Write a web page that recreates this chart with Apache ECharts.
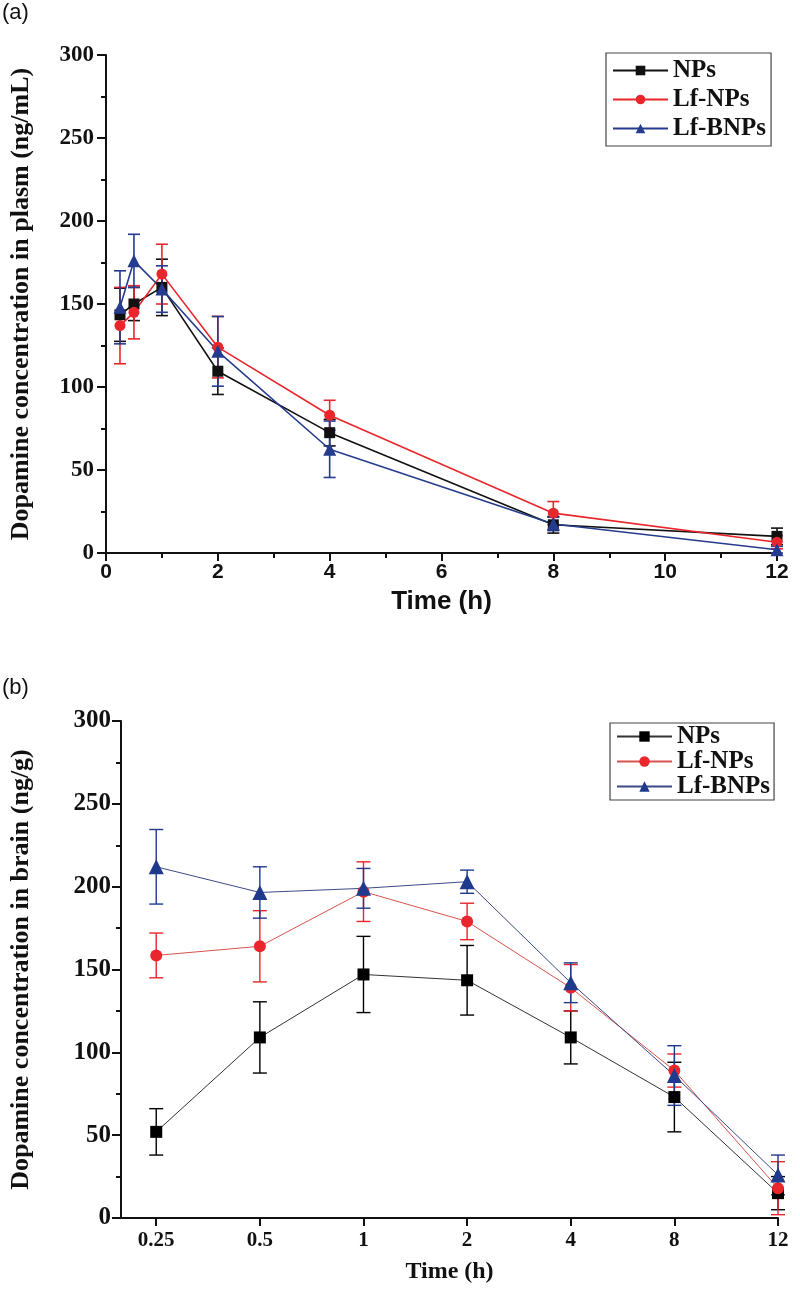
<!DOCTYPE html>
<html>
<head>
<meta charset="utf-8">
<script src="https://cdn.jsdelivr.net/npm/echarts@6/dist/echarts.min.js"></script>
<style>
html,body{margin:0;padding:0;background:#fff;}
#c{width:800px;height:1300px;}
</style>
</head>
<body>
<div id="c"></div>
<script>
// ---------- Panel (a): plasma ----------
const timesA = [0.25, 0.5, 1, 2, 4, 8, 12];
const npsA      = [143.5, 150, 160, 109.5, 72.5, 17, 10];
const npsAErr   = [16, 10, 17, 14, 8, 5, 5];
const lfNpsA    = [137, 145, 168, 124, 83, 24, 6.5];
const lfNpsAErr = [23, 16, 18, 18.5, 9, 7, 4];
const lfBnpsA   = [148, 176, 159, 121.5, 62.5, 17.5, 2];
const lfBnpsAErr= [22, 16, 14, 21, 17, 4, 2];
const yTicksA   = [0, 50, 100, 150, 200, 250, 300];

// ---------- Panel (b): brain ----------
const timeLabelsB = ['0.25', '0.5', '1', '2', '4', '8', '12'];
const npsB      = [52, 109, 147, 143.5, 109, 73, 15];
const npsBErr   = [14, 21.5, 23, 21, 16, 21, 10];
const lfNpsB    = [158.5, 164, 197, 179, 139, 89, 18];
const lfNpsBErr = [13.5, 21.5, 18, 11, 14, 10, 16];
const lfBnpsB   = [212, 196.5, 199, 203, 142, 86, 26];
const lfBnpsBErr= [22.5, 15.5, 12, 7, 12, 18, 12];

const seriesNames = ['NPs', 'Lf-NPs', 'Lf-BNPs'];

const colA = ['#111111', '#e8262c', '#243b8e'];
const colB = ['#000000', '#e8262c', '#1f3a8c'];
const lineColB = ['#333333', '#d9534f', '#3c4a86'];
const symbols = ['rect', 'circle', 'triangle'];

function pairs(xs, ys){ return ys.map((v,i)=>[xs[i], v]); }
function triples(xs, ys, es){ return ys.map((v,i)=>[xs[i], v, es[i]]); }

function errRender(cap, color, lw){
  return function(params, api){
    const x = api.value(0), y = api.value(1), e = api.value(2);
    const top = api.coord([x, y + e]);
    const bot = api.coord([x, y - e]);
    const st = {stroke: color, lineWidth: lw};
    return {type:'group', children:[
      {type:'line', shape:{x1:top[0], y1:top[1], x2:bot[0], y2:bot[1]}, style:st},
      {type:'line', shape:{x1:top[0]-cap, y1:top[1], x2:top[0]+cap, y2:top[1]}, style:st},
      {type:'line', shape:{x1:bot[0]-cap, y1:bot[1], x2:bot[0]+cap, y2:bot[1]}, style:st}
    ]};
  };
}

const idxB = timeLabelsB.map((_,i)=>i);

const valsA = [npsA, lfNpsA, lfBnpsA];
const errsA = [npsAErr, lfNpsAErr, lfBnpsAErr];
const valsB = [npsB, lfNpsB, lfBnpsB];
const errsB = [npsBErr, lfNpsBErr, lfBnpsBErr];

const series = [];
for (let k=0;k<3;k++){
  series.push({
    type:'custom', xAxisIndex:0, yAxisIndex:0, z:2, silent:true,
    renderItem: errRender(6, colA[k], 1.6),
    data: triples(timesA, valsA[k], errsA[k])
  });
}
for (let k=0;k<3;k++){
  series.push({
    name: seriesNames[k], type:'line', xAxisIndex:0, yAxisIndex:0, z:3,
    data: pairs(timesA, valsA[k]),
    symbol: symbols[k], symbolSize: k===2 ? 13 : 11,
    showAllSymbol:true,
    lineStyle:{color: colA[k], width:1.6},
    itemStyle:{color: colA[k]},
    animation:false
  });
}
for (let k=0;k<3;k++){
  series.push({
    type:'custom', xAxisIndex:1, yAxisIndex:1, z:2, silent:true,
    renderItem: errRender(7, colB[k], 1.4),
    data: triples(idxB, valsB[k], errsB[k])
  });
}
for (let k=0;k<3;k++){
  series.push({
    name: 'b:' + seriesNames[k], type:'line', xAxisIndex:1, yAxisIndex:1, z:3,
    data: pairs(idxB, valsB[k]),
    symbol: symbols[k], symbolSize: k===2 ? 15 : 12,
    showAllSymbol:true,
    lineStyle:{color: lineColB[k], width:1},
    itemStyle:{color: colB[k]},
    animation:false
  });
}

const serifBold = {fontFamily:'Liberation Serif, "Times New Roman", serif', fontWeight:'bold', color:'#111'};
const sansBold = {fontFamily:'Liberation Sans, Arial, sans-serif', fontWeight:'bold', color:'#111'};
const axLine = {show:true, onZero:false, lineStyle:{color:'#111', width:2}};

const option = {
  animation:false,
  backgroundColor:'#ffffff',
  grid:[
    {left:105, top:55, width:672, height:498},
    {left:120, top:721, width:658, height:497}
  ],
  xAxis:[
    {gridIndex:0, type:'value', min:0, max:12, interval:2,
     axisLine:axLine, splitLine:{show:false},
     axisTick:{show:true, inside:false, length:8, lineStyle:{color:'#111', width:2}},
     minorTick:{show:true, splitNumber:2, length:5, lineStyle:{color:'#111', width:2}},
     axisLabel:Object.assign({fontSize:21, margin:9}, sansBold),
     name:'Time (h)', nameLocation:'middle', nameGap:36,
     nameTextStyle:Object.assign({fontSize:26}, sansBold)},
    {gridIndex:1, type:'value', min:-0.34, max:6,
     axisLine:axLine, splitLine:{show:false},
     axisTick:{show:true, inside:false, length:8, lineStyle:{color:'#111', width:2}, customValues: idxB},
     axisLabel:Object.assign({fontSize:21, margin:12, customValues: idxB,
       formatter: v => timeLabelsB[Math.round(v)]}, serifBold),
     name:'Time (h)', nameLocation:'middle', nameGap:42,
     nameTextStyle:Object.assign({fontSize:24}, serifBold)}
  ],
  yAxis:[
    {gridIndex:0, type:'value', min:yTicksA[0], max:yTicksA[yTicksA.length-1], interval:50,
     axisLine:axLine, splitLine:{show:false},
     axisTick:{show:true, inside:false, length:9, lineStyle:{color:'#111', width:2}},
     minorTick:{show:true, splitNumber:2, length:5, lineStyle:{color:'#111', width:2}},
     axisLabel:Object.assign({fontSize:23, margin:12}, serifBold),
     name:'Dopamine concentration in plasm (ng/mL)', nameLocation:'middle', nameGap:72,
     nameTextStyle:Object.assign({fontSize:26}, serifBold)},
    {gridIndex:1, type:'value', min:0, max:300, interval:50,
     axisLine:axLine, splitLine:{show:false},
     axisTick:{show:true, inside:false, length:9, lineStyle:{color:'#111', width:2}},
     minorTick:{show:true, splitNumber:2, length:5, lineStyle:{color:'#111', width:2}},
     axisLabel:Object.assign({fontSize:25, margin:10}, serifBold),
     name:'Dopamine concentration in brain (ng/g)', nameLocation:'middle', nameGap:87,
     nameTextStyle:Object.assign({fontSize:26}, serifBold)}
  ],
  legend:[
    {data:seriesNames, orient:'vertical', left:606, top:53,
     itemWidth:55, itemHeight:12, itemGap:4, padding:[5,5,5,6],
     borderColor:'#444', borderWidth:1.2,
     textStyle:Object.assign({fontSize:25, lineHeight:25}, serifBold), selectedMode:false},
    {data:seriesNames.map(n=>'b:'+n), orient:'vertical', left:610, top:723,
     itemWidth:55, itemHeight:13, itemGap:0, padding:[1,4,1,6],
     borderColor:'#444', borderWidth:1.2,
     formatter: n => n.replace(/^b:/, ''),
     textStyle:Object.assign({fontSize:25, lineHeight:21}, serifBold), selectedMode:false}
  ],
  graphic:[
    {type:'text', left:2, top:2, style:{text:'(a)', fontSize:22, fontFamily:'Liberation Sans, Arial, sans-serif', fill:'#111'}},
    {type:'text', left:2, top:677, style:{text:'(b)', fontSize:22, fontFamily:'Liberation Sans, Arial, sans-serif', fill:'#111'}}
  ],
  series: series
};

const chart = echarts.init(document.getElementById('c'), null, {renderer:'canvas'});
chart.setOption(option);
</script>
</body>
</html>
